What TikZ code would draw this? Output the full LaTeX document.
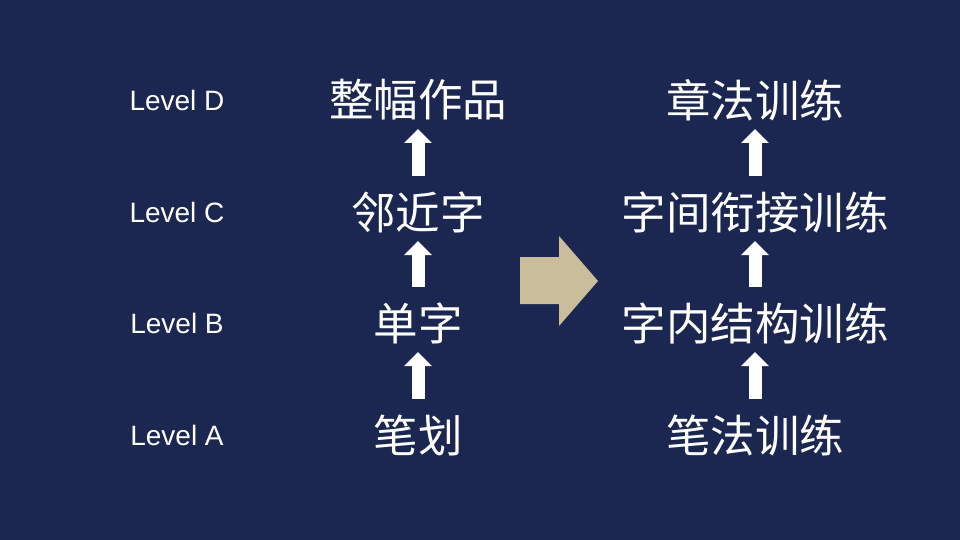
\documentclass[tikz,border=0pt]{standalone}
\usepackage{fontspec}
\setmainfont{Liberation Sans}
\newfontfamily\cjk{Noto Sans CJK SC}
\usetikzlibrary{arrows.meta}
\definecolor{navy}{RGB}{27,39,80}
\definecolor{sand}{RGB}{201,189,156}
\tikzset{
  level/.style={text=white,inner sep=0pt,font=\fontsize{28}{32}\selectfont},
  stage/.style={text=white,inner sep=0pt,font=\cjk\fontsize{44.5}{50}\selectfont},
  uparrow/.style={white,line width=13pt,-{Triangle[width=27pt,length=14pt]},
    shorten <=36pt,shorten >=29pt}
}
\begin{document}
\begin{tikzpicture}[x=1pt,y=-1pt]
  \fill[navy] (0,0) rectangle (960,540);
  \useasboundingbox (0,0) rectangle (960,540);
  % level labels
  \node[level] (lvD) at (177,100) {Level D};
  \node[level] (lvC) at (177,212) {Level C};
  \node[level] (lvB) at (177,323) {Level B};
  \node[level] (lvA) at (177,435) {Level A};
  % left column
  \node[stage] (zuopin) at (418,100) {整幅作品};
  \node[stage] (linjin) at (418,212) {邻近字};
  \node[stage] (danzi)  at (418,323) {单字};
  \node[stage] (bihua)  at (418,435) {笔划};
  % right column
  \node[stage] (zhangfa) at (755,100) {章法训练};
  \node[stage] (zijian)  at (755,212) {字间衔接训练};
  \node[stage] (zinei)   at (755,323) {字内结构训练};
  \node[stage] (bifa)    at (755,435) {笔法训练};
  \foreach \a/\b in {bihua/danzi,danzi/linjin,linjin/zuopin,
                     bifa/zinei,zinei/zijian,zijian/zhangfa}
    \draw[uparrow] (\a.center) -- (\b.center);
  % big arrow
  \fill[sand] (520,257) -- (559,257) -- (559,236) -- (598,281)
    -- (559,326) -- (559,304) -- (520,304) -- cycle;
\end{tikzpicture}
\end{document}
